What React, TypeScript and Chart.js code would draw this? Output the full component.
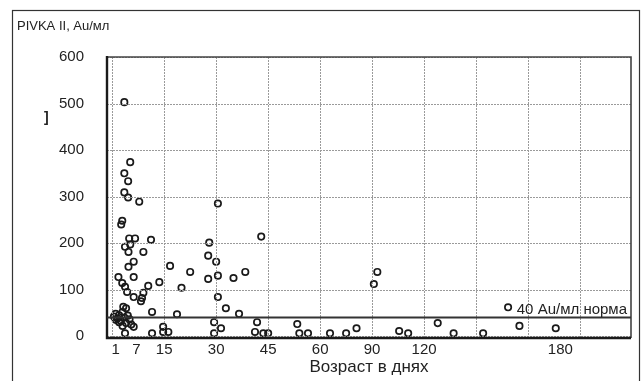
import React, { useEffect, useRef } from "react";
import { Chart, registerables } from "chart.js";

Chart.register(...registerables);

// ---- data (age in days, PIVKA II in Au/ml) ----
const AGE_DAYS = [
  3.5, 5.2, 3.5, 4.6, 3.5, 4.6, 7.8, 2.9, 2.6, 4.9, 6.6, 5.2, 11.2, 28,
  3.7, 4.7, 9.0, 6.2, 4.7, 16.7, 22.5, 1.8, 6.2, 2.9, 3.7, 10.4, 13.6, 20.0,
  4.3, 6.2, 9.0, 8.6, 8.3, 3.2, 11.5, 18.7,
  0.5, 1.0, 1.5, 2.0, 2.5, 3.0, 3.5, 4.0, 4.5, 5.0, 5.5, 6.2, 2.0, 3.0, 1.0, 4.0,
  14.7, 3.7, 11.5, 14.7, 16.2,
  30.5, 43, 27.7, 30, 27.7, 30.5, 35, 38.4, 30.5, 32.8, 36.6, 29.4, 31.4, 29.4,
  41.8, 41.2, 43.6, 45, 53.4, 54, 56.5,
  93, 91, 65.7, 75, 81, 105.6, 110.8, 126, 133, 146, 162, 178, 157,
];
const PIVKA_VALUES = [
  503, 374, 350, 333, 309, 298, 289, 248, 240, 210, 210, 197, 207, 201,
  192, 181, 181, 160, 149, 151, 138, 127, 127, 114, 106, 108, 116, 104,
  95, 84, 93, 82, 75, 63, 52, 47,
  42, 48, 38, 45, 33, 52, 40, 28, 44, 36, 25, 20, 30, 22, 35, 60,
  20, 6, 6, 9, 9,
  285, 214, 173, 160, 123, 130, 125, 138, 84, 60, 48, 30, 17, 6,
  30, 9, 6, 6, 26, 6, 6,
  138, 112, 6, 6, 17, 11, 6, 28, 6, 6, 22, 17, 62,
];

const AGE_TICKS = [1, 7, 15, 30, 45, 60, 90, 120, 180];
const VALUE_TICKS = [0, 100, 200, 300, 400, 500, 600];
const NORM_VALUE = 40;
const NORM_LABEL = "40 Au/мл норма";
const Y_TITLE = "PIVKA II, Au/мл";
const X_TITLE = "Возраст в днях";

// compressed age axis: days -> axis units (one unit per grid cell)
const SCALE_DAYS = [0, 60, 120, 180];
const SCALE_UNITS = [0, 4, 6, 8.62];
const GRID_UNITS = [0, 1, 2, 3, 4, 5, 6, 7, 8, 9];
const X_MIN = -0.1;
const X_MAX = 9.98;
const Y_MIN = -4;
const Y_MAX = 600;

function dayToUnit(d: number): number {
  for (let i = 1; i < SCALE_DAYS.length; i++) {
    if (d <= SCALE_DAYS[i] || i === SCALE_DAYS.length - 1) {
      const d0 = SCALE_DAYS[i - 1];
      const d1 = SCALE_DAYS[i];
      const u0 = SCALE_UNITS[i - 1];
      const u1 = SCALE_UNITS[i];
      return u0 + ((d - d0) / (d1 - d0)) * (u1 - u0);
    }
  }
  return 0;
}

const FONT = "'Liberation Sans', Arial, sans-serif";
const INK = "#222";
const GRID = "#9a9a9a";

function drawGrid(chart: any) {
  const { ctx, chartArea } = chart;
  const { left, right, top, bottom } = chartArea;
  const xs = chart.scales.x;
  const ys = chart.scales.y;
  ctx.save();
  ctx.strokeStyle = GRID;
  ctx.lineWidth = 1;
  ctx.setLineDash([2, 1]);
  for (const u of GRID_UNITS) {
    const px = Math.round(xs.getPixelForValue(u)) + 0.5;
    ctx.beginPath();
    ctx.moveTo(px, top);
    ctx.lineTo(px, bottom);
    ctx.stroke();
  }
  for (const v of VALUE_TICKS) {
    const py = Math.round(ys.getPixelForValue(v)) + 0.5;
    ctx.beginPath();
    ctx.moveTo(left, py);
    ctx.lineTo(right, py);
    ctx.stroke();
  }
  ctx.restore();
}

const decorPlugin = {
  id: "decor",
  afterDraw(chart: any) {
    const { ctx, chartArea } = chart;
    const { left, right, top, bottom } = chartArea;
    const y = chart.scales.y;
    drawGrid(chart);
    ctx.save();
    // outer frame
    ctx.strokeStyle = "#333";
    ctx.lineWidth = 1.2;
    ctx.strokeRect(12.5, 10.5, 627, 400);
    // plot frame
    ctx.strokeStyle = "#444";
    ctx.lineWidth = 1.6;
    ctx.beginPath();
    ctx.moveTo(left, top);
    ctx.lineTo(right, top);
    ctx.lineTo(right, bottom);
    ctx.stroke();
    ctx.strokeStyle = "#1a1a1a";
    ctx.lineWidth = 2.4;
    ctx.beginPath();
    ctx.moveTo(left, top - 1);
    ctx.lineTo(left, bottom);
    ctx.lineTo(right, bottom);
    ctx.stroke();
    // norm line
    const ny = y.getPixelForValue(NORM_VALUE);
    ctx.strokeStyle = "#333";
    ctx.lineWidth = 2;
    ctx.beginPath();
    ctx.moveTo(left, ny);
    ctx.lineTo(right, ny);
    ctx.stroke();
    ctx.fillStyle = INK;
    ctx.font = `15px ${FONT}`;
    ctx.textAlign = "right";
    ctx.textBaseline = "alphabetic";
    ctx.fillText(NORM_LABEL, right - 4, ny - 4);
    // y title
    ctx.textAlign = "left";
    ctx.textBaseline = "middle";
    ctx.font = `13px ${FONT}`;
    ctx.fillText(Y_TITLE, 17, 26);
    // stray bracket mark
    ctx.font = `bold 14px ${FONT}`;
    ctx.fillText("]", 44, 118);
    ctx.restore();
  },
};

export default function App() {
  const ref = useRef<HTMLCanvasElement | null>(null);

  useEffect(() => {
    if (!ref.current) return;
    const points = AGE_DAYS.map((d, i) => ({ x: dayToUnit(d), y: PIVKA_VALUES[i] }));
    const chart = new Chart(ref.current, {
      type: "scatter",
      data: {
        datasets: [
          {
            data: points,
            pointStyle: "circle",
            pointRadius: 3.2,
            pointBorderWidth: 1.7,
            borderColor: "#1a1a1a",
            backgroundColor: "rgba(255,255,255,0)",
          },
        ],
      },
      options: {
        animation: false,
        responsive: false,
        devicePixelRatio: 1,
        layout: { padding: { left: 0, top: 57, right: 11, bottom: 0 } },
        plugins: {
          legend: { display: false },
          tooltip: { enabled: false },
        },
        scales: {
          x: {
            type: "linear",
            position: "bottom",
            min: X_MIN,
            max: X_MAX,
            afterBuildTicks: (s: any) => {
              s.ticks = AGE_TICKS.map((d) => ({ value: dayToUnit(d) }));
            },
            afterFit: (s: any) => {
              s.height = 43;
            },
            ticks: {
              autoSkip: false,
              maxRotation: 0,
              padding: 3,
              color: INK,
              font: { family: FONT, size: 15 },
              callback: (_v: any, i: number) => String(AGE_TICKS[i]),
            },
            grid: { display: false, drawTicks: false },
            border: { display: false },
            title: {
              display: true,
              text: X_TITLE,
              color: INK,
              font: { family: FONT, size: 17 },
              padding: { top: 0, bottom: 3 },
            },
          },
          y: {
            type: "linear",
            min: Y_MIN,
            max: Y_MAX,
            afterBuildTicks: (s: any) => {
              s.ticks = VALUE_TICKS.map((v) => ({ value: v }));
            },
            afterFit: (s: any) => {
              s.width = 107;
            },
            ticks: {
              padding: 23,
              color: INK,
              font: { family: FONT, size: 15 },
            },
            grid: { display: false, drawTicks: false },
            border: { display: false },
          },
        },
      },
      plugins: [decorPlugin],
    } as any);
    return () => chart.destroy();
  }, []);

  return (
    <div style={{ position: "fixed", left: 0, top: 0, width: 642, height: 381, background: "#fff" }}>
      <canvas ref={ref} width={642} height={381} style={{ display: "block" }} />
    </div>
  );
}
